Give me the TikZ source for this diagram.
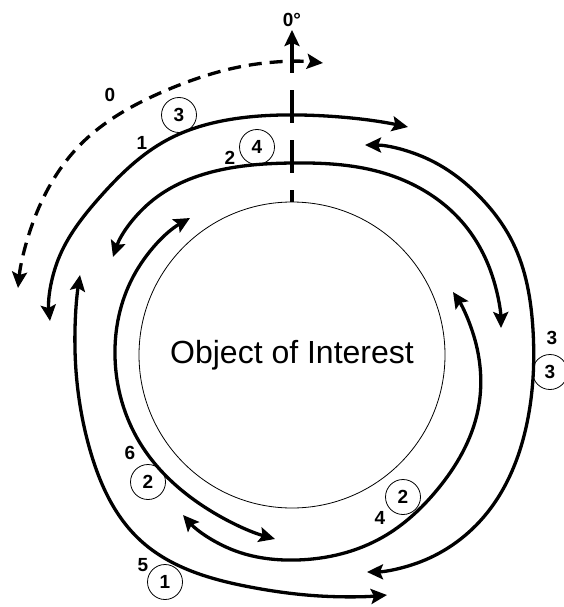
\documentclass[tikz,border=0pt]{standalone}
\usepackage{fontspec}
\setmainfont{Liberation Sans}
\usetikzlibrary{arrows.meta,hobby}

\tikzset{
    >={Stealth[length=16pt,width=15pt,inset=3pt]},
    turn/.style={line width=3.3pt,<->,use Hobby shortcut},
    num/.style={font=\fontsize{19}{21}\selectfont\bfseries,inner sep=0pt},
    ring/.style={draw,circle,line width=0.8pt,minimum size=35pt,inner sep=0pt,
        font=\fontsize{19}{21}\selectfont\bfseries},
}

\begin{document}
\begin{tikzpicture}[x=1pt,y=-1pt]
    \useasboundingbox (0,0) rectangle (563,607);
    \node[draw,circle,line width=0.8pt,minimum size=306pt,font=\fontsize{32}{36}\selectfont] (obj) at (292,355) {Object of Interest};
    % heading axis
    \draw[line width=3.3pt,dash pattern=on 33pt off 17pt,dash phase=21pt] (obj.north) -- (292,72) coordinate (ax);
    \draw[line width=3.3pt,->] (ax) -- (292,30) coordinate (axtop);
    \node[num,above=3pt] (deg) at (axtop) {0°};
    % path 0
    \draw[turn,dash pattern=on 13pt off 8pt] (18,288) .. (35,217) .. (80,145) .. (167,90) .. (250,65) .. (323,63);
    % path 1 and 2
    \draw[turn] (50,321) .. (58,260) .. (100,197) .. (167,140) .. (240,118) .. (300,115) .. (408,127);
    \draw[turn] (113,257) .. (153,200) .. (220,170) .. (292,163) .. (380,172) .. (463,223) .. (492,275) .. (501,328);
    % path 3 and 4
    \draw[turn] (365,145) .. (430,160) .. (480,197) .. (513,243) .. (533,330) .. (527,423) .. (487,513) .. (420,562) .. (367,572);
    \draw[turn] (453,292) .. (475,340) .. (478,410) .. (437,490) .. (383,537) .. (297,560) .. (233,550) .. (183,515);
    % path 5 and 6
    \draw[turn] (80,275) .. (75,350) .. (90,450) .. (140,540) .. (250,587) .. (320,596) .. (387,595);
    \draw[turn] (190,218) .. (133,277) .. (115,357) .. (140,443) .. (200,504) .. (275,539);
    % step numbers
    \node[num] (n0) at (110,95) {0};
    \node[num] (n1) at (142,143) {1};
    \node[num] (n2) at (230,158) {2};
    \node[num] (n3) at (552,338) {3};
    \node[num] (n4) at (380,518) {4};
    \node[num] (n5) at (143,565) {5};
    \node[num] (n6) at (130,453) {6};
    % circled counts
    \node[ring] (c1) at (179,115) {3};
    \node[ring] (c2) at (257,147) {4};
    \node[ring] (c3) at (550,372) {3};
    \node[ring] (c4) at (403,497) {2};
    \node[ring] (c5) at (165,582) {1};
    \node[ring] (c6) at (148,482) {2};
\end{tikzpicture}
\end{document}
